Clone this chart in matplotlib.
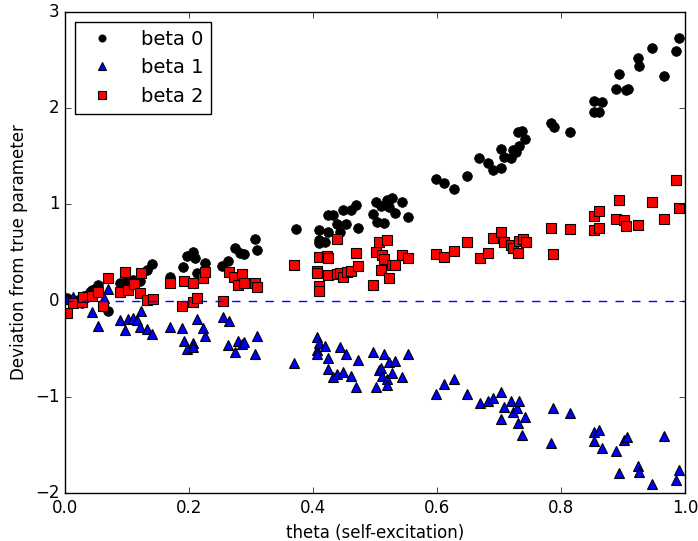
import matplotlib
matplotlib.use("Agg")
import matplotlib.pyplot as plt

# beta 0 (black circles)
theta0 = [0.004, 0.008, 0.021, 0.027, 0.031, 0.040, 0.043, 0.048, 0.053, 0.069,
          0.089, 0.097, 0.110, 0.121, 0.132, 0.141, 0.170, 0.191, 0.197, 0.207,
          0.210, 0.213, 0.226, 0.254, 0.263, 0.275, 0.283, 0.288, 0.307, 0.310,
          0.372, 0.409, 0.409, 0.409, 0.420, 0.425, 0.425, 0.433, 0.438, 0.444,
          0.449, 0.454, 0.462, 0.470, 0.473, 0.497, 0.502, 0.504, 0.509, 0.514,
          0.520, 0.522, 0.528, 0.533, 0.544, 0.554, 0.599, 0.612, 0.628, 0.649,
          0.667, 0.683, 0.691, 0.703, 0.703, 0.708, 0.719, 0.722, 0.727, 0.730,
          0.732, 0.737, 0.742, 0.784, 0.788, 0.814, 0.853, 0.853, 0.861, 0.866,
          0.889, 0.893, 0.905, 0.908, 0.924, 0.926, 0.947, 0.966, 0.985, 0.990]
beta0 = [0.03, 0.01, 0.01, -0.02, 0.05, 0.09, 0.11, 0.12, 0.16, -0.11,
         0.18, 0.19, 0.21, 0.20, 0.32, 0.38, 0.25, 0.35, 0.46, 0.51,
         0.44, 0.29, 0.39, 0.36, 0.41, 0.55, 0.50, 0.48, 0.64, 0.53,
         0.74, 0.73, 0.63, 0.60, 0.61, 0.71, 0.89, 0.89, 0.80, 0.71,
         0.94, 0.80, 0.94, 0.99, 0.75, 0.90, 1.03, 0.82, 0.98, 0.81,
         1.05, 0.97, 1.07, 0.91, 1.02, 0.87, 1.26, 1.22, 1.16, 1.30,
         1.48, 1.43, 1.36, 1.38, 1.58, 1.49, 1.48, 1.57, 1.54, 1.75,
         1.61, 1.76, 1.68, 1.85, 1.80, 1.75, 2.07, 1.96, 1.96, 2.06,
         2.20, 2.36, 2.19, 2.20, 2.52, 2.44, 2.63, 2.33, 2.59, 2.73]

# beta 1 (blue triangles)
theta1 = [0.004, 0.013, 0.043, 0.053, 0.063, 0.069, 0.089, 0.097, 0.102, 0.110,
          0.116, 0.121, 0.123, 0.132, 0.141, 0.170, 0.189, 0.192, 0.197, 0.207,
          0.207, 0.213, 0.223, 0.226, 0.255, 0.263, 0.265, 0.275, 0.279, 0.286,
          0.288, 0.307, 0.310, 0.370, 0.407, 0.407, 0.407, 0.409, 0.420, 0.425,
          0.425, 0.433, 0.438, 0.444, 0.449, 0.454, 0.462, 0.470, 0.473, 0.496,
          0.502, 0.506, 0.509, 0.512, 0.515, 0.520, 0.520, 0.522, 0.528, 0.533,
          0.544, 0.554, 0.599, 0.612, 0.628, 0.649, 0.669, 0.683, 0.691, 0.704,
          0.704, 0.708, 0.719, 0.722, 0.729, 0.730, 0.732, 0.737, 0.742, 0.784,
          0.787, 0.814, 0.853, 0.853, 0.861, 0.866, 0.889, 0.893, 0.901, 0.906,
          0.924, 0.926, 0.947, 0.966, 0.985, 0.990]
beta1 = [0.02, 0.04, -0.12, -0.26, 0.03, 0.12, -0.20, -0.31, -0.19, -0.18,
         -0.20, -0.27, -0.11, -0.30, -0.35, -0.27, -0.28, -0.42, -0.50, -0.44,
         -0.48, -0.19, -0.28, -0.37, -0.17, -0.46, -0.21, -0.53, -0.42, -0.45,
         -0.43, -0.55, -0.37, -0.65, -0.38, -0.51, -0.56, -0.44, -0.47, -0.60,
         -0.71, -0.79, -0.76, -0.48, -0.74, -0.56, -0.78, -0.90, -0.62, -0.53,
         -0.90, -0.72, -0.70, -0.78, -0.56, -0.81, -0.88, -0.64, -0.75, -0.63,
         -0.79, -0.55, -0.97, -0.87, -0.82, -0.97, -1.06, -1.04, -1.01, -0.95,
         -1.23, -1.11, -1.04, -1.16, -1.12, -1.27, -1.04, -1.40, -1.21, -1.48,
         -1.12, -1.17, -1.37, -1.46, -1.34, -1.53, -1.56, -1.79, -1.45, -1.42,
         -1.72, -1.78, -1.91, -1.41, -1.86, -1.76]

# beta 2 (red squares)
theta2 = [0.003, 0.013, 0.027, 0.029, 0.043, 0.053, 0.061, 0.069, 0.089, 0.097,
          0.102, 0.111, 0.121, 0.123, 0.132, 0.142, 0.170, 0.189, 0.192, 0.207,
          0.207, 0.213, 0.223, 0.226, 0.255, 0.265, 0.273, 0.279, 0.286, 0.288,
          0.307, 0.310, 0.370, 0.407, 0.407, 0.409, 0.409, 0.409, 0.422, 0.425,
          0.425, 0.438, 0.439, 0.444, 0.449, 0.455, 0.462, 0.470, 0.473, 0.496,
          0.502, 0.506, 0.509, 0.512, 0.515, 0.520, 0.522, 0.528, 0.533, 0.544,
          0.554, 0.599, 0.612, 0.628, 0.649, 0.669, 0.683, 0.691, 0.704, 0.708,
          0.719, 0.722, 0.730, 0.732, 0.738, 0.743, 0.784, 0.787, 0.814, 0.853,
          0.853, 0.861, 0.861, 0.889, 0.893, 0.901, 0.905, 0.924, 0.947, 0.966,
          0.985, 0.990]
beta2 = [-0.13, -0.02, -0.01, 0.04, 0.05, 0.09, -0.06, 0.23, 0.09, 0.30,
         0.11, 0.17, 0.08, 0.29, 0.01, 0.02, 0.18, -0.06, 0.20, 0.18,
         -0.01, 0.03, 0.24, 0.30, 0.00, 0.30, 0.25, 0.16, 0.28, 0.18,
         0.18, 0.14, 0.37, 0.31, 0.29, 0.45, 0.15, 0.10, 0.46, 0.44,
         0.27, 0.64, 0.28, 0.29, 0.25, 0.30, 0.31, 0.50, 0.36, 0.16,
         0.51, 0.61, 0.32, 0.47, 0.43, 0.63, 0.24, 0.37, 0.37, 0.47,
         0.44, 0.48, 0.45, 0.52, 0.61, 0.44, 0.49, 0.65, 0.71, 0.61,
         0.58, 0.55, 0.50, 0.62, 0.64, 0.61, 0.75, 0.48, 0.74, 0.88,
         0.73, 0.93, 0.75, 0.85, 1.05, 0.84, 0.78, 0.79, 1.02, 0.85,
         1.25, 0.96]

plt.style.use('classic')
plt.rcParams['font.family'] = ['DejaVu Sans']

fig = plt.figure(figsize=(6.98, 5.41), dpi=100, facecolor='white')
ax = fig.add_axes([0.0931, 0.0887, 0.8883, 0.8891])

ax.plot(theta0, beta0, 'ko', markersize=7, markeredgewidth=0.5, label='beta 0')
ax.plot(theta1, beta1, 'b^', markersize=7, markeredgewidth=0.8, label='beta 1')
ax.plot(theta2, beta2, 'rs', markersize=7, markeredgewidth=0.8, label='beta 2')
ax.axhline(0, color='b', linestyle='--', linewidth=1)

ax.set_xlim(0, 1)
ax.set_ylim(-2, 3)
ax.set_xticks([0.0, 0.2, 0.4, 0.6, 0.8, 1.0])
ax.set_yticks([-2, -1, 0, 1, 2, 3])
ax.set_xlabel('theta (self-excitation)')
ax.set_ylabel('Deviation from true parameter')
ax.legend(loc='upper left', numpoints=1, fontsize=14, markerscale=0.75,
          handletextpad=1.0, labelspacing=0.5)

fig.savefig('out.png', dpi=100, facecolor='white')
